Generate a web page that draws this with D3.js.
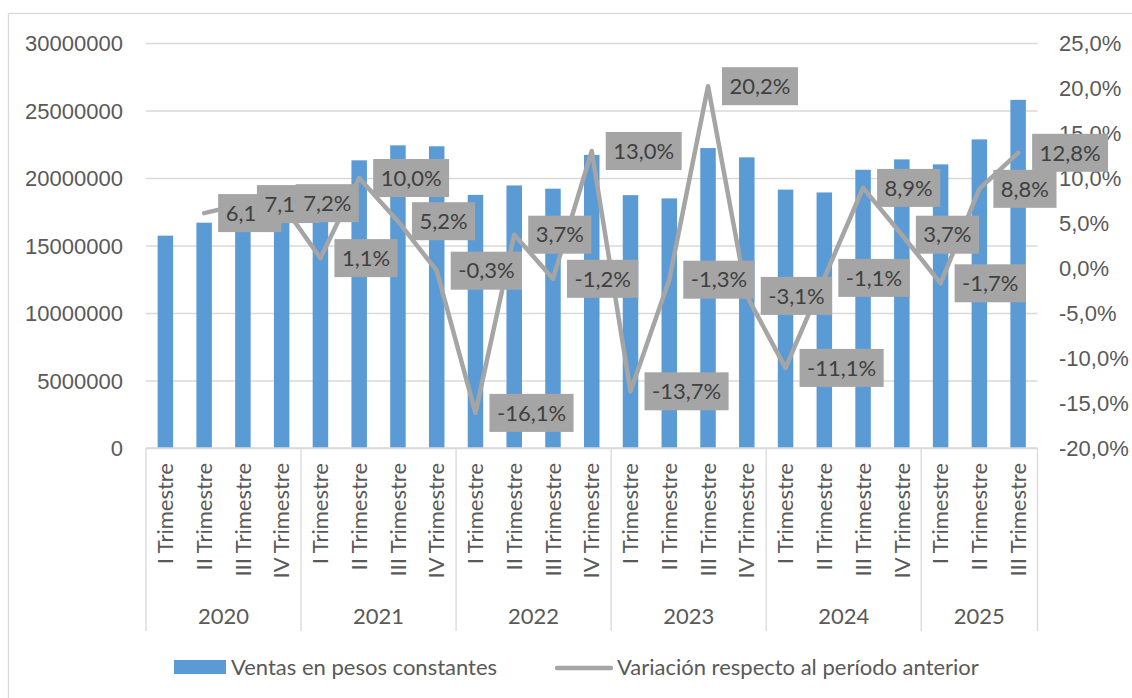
<!DOCTYPE html>
<html>
<head>
<meta charset="utf-8">
<script src="https://cdn.jsdelivr.net/npm/d3@7"></script>
<style>
  html, body { margin: 0; padding: 0; background: #fff; }
  svg { display: block; font-family: Lato, "Open Sans", sans-serif; }
</style>
</head>
<body>
<svg id="chart" width="1132" height="698"></svg>
<script>
// values
const years = ['2020', '2021', '2022', '2023', '2024', '2025'];
const quarters = ['I Trimestre', 'II Trimestre', 'III Trimestre', 'IV Trimestre'];
const ventas = [
    15730000, 16690000, 17880000, 19160000,
    19370000, 21310000, 22420000, 22350000,
    18750000, 19450000, 19210000, 21710000,
    18730000, 18490000, 22220000, 21530000,
    19140000, 18930000, 20610000, 21380000,
    21010000, 22860000, 25790000
];
const variacion = [
    null, 6.1, 7.1, 7.2,
    1.1, 10.0, 5.2, -0.3,
    -16.1, 3.7, -1.2, 13.0,
    -13.7, -1.3, 20.2, -3.1,
    -11.1, -1.1, 8.9, 3.7,
    -1.7, 8.8, 12.8
];
const leftTicks = [0, 5000000, 10000000, 15000000, 20000000, 25000000, 30000000];
const rightTicks = [-20, -15, -10, -5, 0, 5, 10, 15, 20, 25];
const seriesNames = ['Ventas en pesos constantes', 'Variación respecto al período anterior'];

const barColor = '#5b9bd5';
const lineColor = '#a5a5a5';
const gridColor = '#d9d9d9';
const textColor = '#595959';
const fontSize = '22px';

// one row per quarter
const rows = ventas.map((v, i) => ({
    key: i,
    year: years[Math.floor(i / 4)],
    quarter: quarters[i % 4],
    ventas: v,
    variacion: variacion[i]
}));

const svg = d3.select('#chart');
const plotLeft = 146, plotRight = 1037.5, plotTop = 43, plotBottom = 448;

const x = d3.scaleBand()
    .domain(rows.map(d => d.key))
    .range([plotLeft, plotRight])
    .paddingInner(0.6)
    .paddingOuter(0.3);
const step = x.step();
const cx = d => x(d.key) + x.bandwidth() / 2;

const y = d3.scaleLinear().domain([0, 30000000]).range([plotBottom, plotTop]);
const y2 = d3.scaleLinear().domain([-20, 25]).range([plotBottom, plotTop]);

const fmtPct = v => v.toFixed(1).replace('.', ',') + '%';

// chart frame (runs off the picture on the right and bottom)
svg.append('rect')
    .attr('x', 8.5).attr('y', 13.5)
    .attr('width', 1200).attr('height', 800)
    .attr('fill', 'none')
    .attr('stroke', gridColor)
    .attr('stroke-width', 1.3);

// gridlines + left axis
const yAxis = d3.axisLeft(y).tickValues(leftTicks).tickSize(-(plotRight - plotLeft)).tickFormat(d3.format('d'));
svg.append('g')
    .attr('transform', `translate(${plotLeft},0)`)
    .call(yAxis)
    .call(g => g.select('.domain').remove())
    .call(g => g.selectAll('line').attr('stroke', gridColor).attr('stroke-width', 1.3))
    .call(g => g.selectAll('text')
        .attr('x', -23)
        .attr('dy', '0.35em')
        .attr('fill', textColor)
        .style('font-size', fontSize));

// right axis
const y2Axis = d3.axisRight(y2).tickValues(rightTicks).tickSize(0).tickFormat(fmtPct);
svg.append('g')
    .attr('transform', `translate(${plotRight},0)`)
    .call(y2Axis)
    .call(g => g.select('.domain').remove())
    .call(g => g.selectAll('text')
        .attr('x', 21.5)
        .attr('dy', '0.35em')
        .attr('fill', textColor)
        .style('font-size', fontSize));

// bars
svg.append('g')
    .selectAll('rect')
    .data(rows)
    .join('rect')
    .attr('x', d => cx(d) - 7.75)
    .attr('width', 15.5)
    .attr('y', d => y(d.ventas))
    .attr('height', d => y(0) - y(d.ventas))
    .attr('fill', barColor);

// category axis: baseline, group separators, labels
svg.append('line')
    .attr('x1', plotLeft).attr('x2', plotRight)
    .attr('y1', plotBottom).attr('y2', plotBottom)
    .attr('stroke', gridColor).attr('stroke-width', 1.3);

const groups = years.map(yr => {
    const members = rows.filter(d => d.year === yr);
    return {
        year: yr,
        x0: cx(members[0]) - step / 2,
        x1: cx(members[members.length - 1]) + step / 2
    };
});

const sepX = [plotLeft].concat(groups.map(g => g.x1));
svg.append('g')
    .selectAll('line')
    .data(sepX)
    .join('line')
    .attr('x1', d => d).attr('x2', d => d)
    .attr('y1', plotBottom).attr('y2', 631)
    .attr('stroke', gridColor).attr('stroke-width', 1.3);

svg.append('g')
    .selectAll('text')
    .data(rows)
    .join('text')
    .attr('transform', d => `translate(${cx(d)},463) rotate(-90)`)
    .attr('text-anchor', 'end')
    .attr('dy', '0.35em')
    .attr('fill', textColor)
    .style('font-size', fontSize)
    .text(d => d.quarter);

svg.append('g')
    .selectAll('text')
    .data(groups)
    .join('text')
    .attr('x', d => (d.x0 + d.x1) / 2)
    .attr('y', 616)
    .attr('dy', '0.35em')
    .attr('text-anchor', 'middle')
    .attr('fill', textColor)
    .style('font-size', fontSize)
    .text(d => d.year);

// variation line
const lineRows = rows.filter(d => d.variacion !== null);
const line = d3.line().x(cx).y(d => y2(d.variacion));
svg.append('path')
    .datum(lineRows)
    .attr('d', line)
    .attr('fill', 'none')
    .attr('stroke', lineColor)
    .attr('stroke-width', 4.5)
    .attr('stroke-linejoin', 'round')
    .attr('stroke-linecap', 'round');

// data labels, drawn one after another so later ones cover earlier ones
const labels = svg.append('g');
lineRows.forEach(d => {
    const g = labels.append('g')
        .attr('transform', `translate(${cx(d) + 14},${y2(d.variacion)})`);
    const box = g.append('rect').attr('fill', lineColor);
    const t = g.append('text')
        .attr('x', 7.5)
        .attr('dy', '0.35em')
        .attr('fill', '#404040')
        .style('font-size', fontSize)
        .text(fmtPct(d.variacion));
    const w = t.node().getComputedTextLength();
    box.attr('x', 0).attr('y', -19).attr('width', w + 15).attr('height', 38);
});

// legend
const legend = svg.append('g');
legend.append('rect')
    .attr('x', 174).attr('y', 660)
    .attr('width', 52).attr('height', 14)
    .attr('fill', barColor);
legend.append('text')
    .attr('x', 231).attr('y', 667)
    .attr('dy', '0.35em')
    .attr('fill', textColor)
    .style('font-size', fontSize)
    .text(seriesNames[0]);
legend.append('line')
    .attr('x1', 557).attr('x2', 611)
    .attr('y1', 668).attr('y2', 668)
    .attr('stroke', lineColor)
    .attr('stroke-width', 4.5)
    .attr('stroke-linecap', 'round');
legend.append('text')
    .attr('x', 617).attr('y', 667)
    .attr('dy', '0.35em')
    .attr('fill', textColor)
    .style('font-size', fontSize)
    .text(seriesNames[1]);
</script>
</body>
</html>
